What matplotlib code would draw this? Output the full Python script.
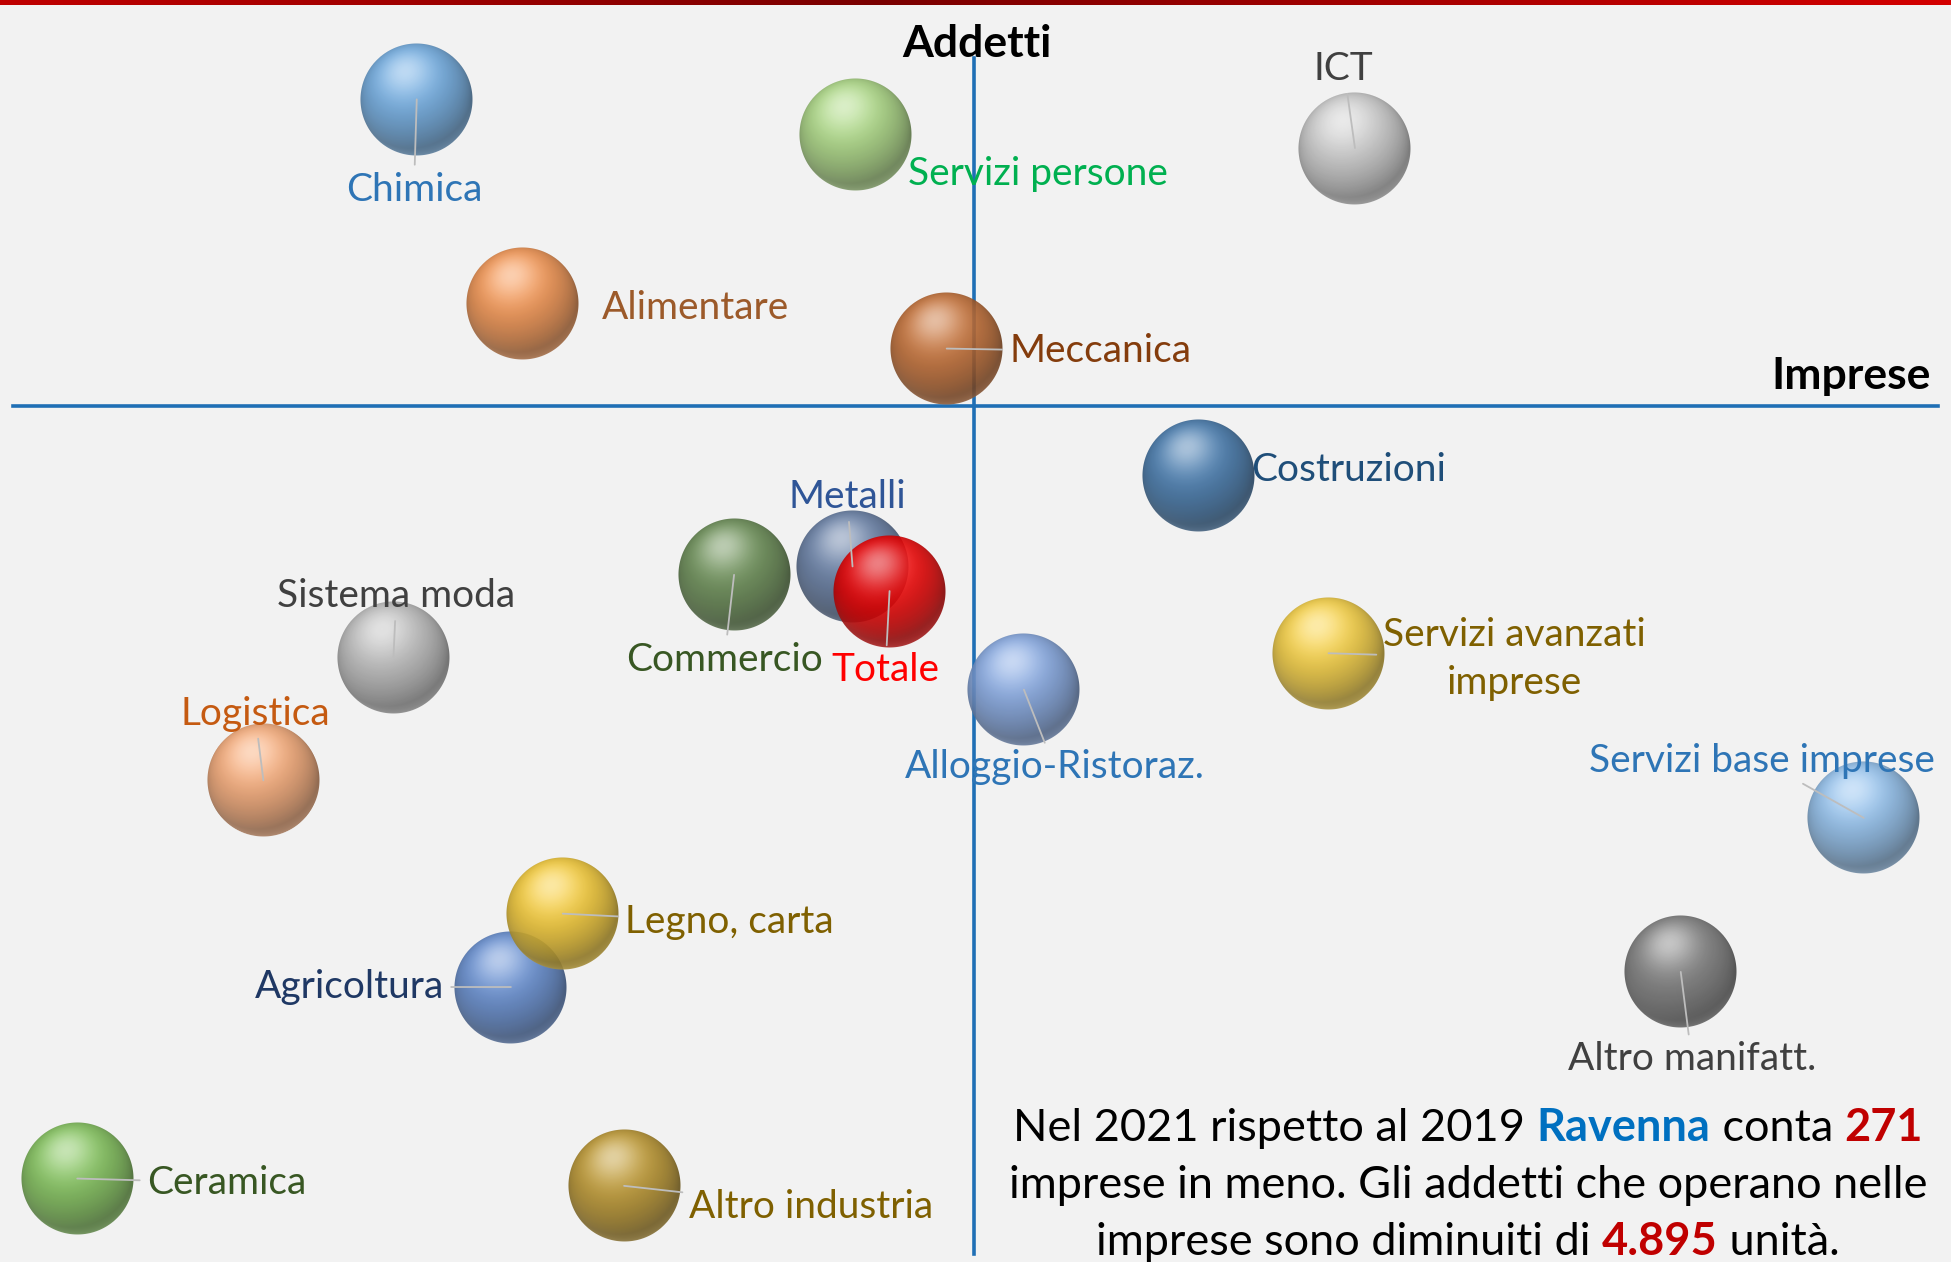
import matplotlib
matplotlib.use('Agg')
import matplotlib.pyplot as plt
import numpy as np
from matplotlib.colors import to_rgb
from matplotlib.offsetbox import OffsetImage, AnnotationBbox, TextArea, HPacker, VPacker

# variazione % 2021 vs 2019 (stimata dal grafico)
settori = ['Chimica', 'Servizi persone', 'ICT', 'Alimentare', 'Meccanica', 'Costruzioni',
           'Commercio', 'Sistema moda', 'Servizi avanzati\nimprese', 'Alloggio-Ristoraz.',
           'Logistica', 'Servizi base imprese', 'Agricoltura', 'Legno, carta',
           'Altro manifatt.', 'Ceramica', 'Altro industria', 'Metalli', 'Totale']
var_imprese = [-5.27, -1.12, 3.60, -4.27, -0.26, 2.12, -2.27, -5.49, 3.35, 0.47,
               -6.72, 8.41, -4.38, -3.89, 6.68, -8.48, -3.31, -1.15, -0.80]
var_addetti = [5.47, 4.84, 4.60, 1.82, 1.02, -1.24, -3.02, -4.49, -4.42, -5.07,
               -6.69, -7.36, -10.38, -9.07, -10.11, -13.80, -13.93, -2.87, -3.31]

col_sfera = ['#6aa6dc', '#a6d37e', '#c8c8c8', '#ee8e4a', '#c06a30', '#3f74a8',
             '#64884f', '#b8b8b8', '#f2cb3c', '#7fa2dc', '#f2a572', '#8cbbe8',
             '#5f88cc', '#f0c530', '#7a7a7a', '#7cbd55', '#b8922a', '#60789f', '#f00000']
col_testo = ['#2e75b6', '#00b050', '#404040', '#9c5a2a', '#843c0c', '#1f4e79',
             '#385723', '#404040', '#7f6000', '#2e75b6', '#c55a11', '#2e75b6',
             '#1f3864', '#7f6000', '#404040', '#385723', '#7f6000', '#2f5597', '#ff0000']
# posizione etichette: offset in punti, allineamento, linea guida
etichette = [((-2, -65), 'center', True), ((38, -28), 'left', False), ((-8, 57), 'center', True),
             ((57, -3), 'left', False), ((45, -2), 'left', True), ((38, 4), 'left', False),
             ((-7, -61), 'center', True), ((2, 44), 'center', True), ((134, -4), 'center', True),
             ((22, -56), 'center', True), ((-6, 48), 'center', True), ((-73, 41), 'center', True),
             ((-48, 0), 'right', True), ((45, -6), 'left', True), ((8, -63), 'center', True),
             ((50, -3), 'left', True), ((47, -15), 'left', True), ((-4, 50), 'center', True),
             ((-3, -57), 'center', True)]

bg = '#f2f2f2'
font = ['Lato', 'DejaVu Sans']


def sfera(colore, n=226, alpha=0.9):
    c = np.array(to_rgb(colore))
    t = np.linspace(-1, 1, n)
    u, v = np.meshgrid(t, -t)
    r = np.sqrt(u**2 + v**2)
    nz = np.sqrt(np.clip(1 - r**2, 0, 1))
    L = np.array([-0.2, 0.5, 0.84])
    L = L / np.linalg.norm(L)
    diff = np.clip(u * L[0] + v * L[1] + nz * L[2], 0, 1)
    spec = 0.5 * diff**10
    rim = 0.18 * np.clip(-v, 0, 1) * (1 - nz)**1.5
    shade = 0.55 + 0.5 * diff
    rgb = c * shade[..., None] + (1 - c * shade[..., None]) * spec[..., None] + rim[..., None]
    rgb = np.clip(rgb, 0, 1)
    a = np.clip((1 - r) * n / 2, 0, 1) * alpha
    return np.dstack([rgb, a])


fig = plt.figure(figsize=(19.51, 12.62), dpi=100, facecolor=bg)
ax = fig.add_axes([0, 0, 1, 1])
ax.set_facecolor(bg)
ax.set_xlim(-9.21, 9.235)
ax.set_ylim(-15.29, 7.244)
ax.axis('off')

# assi del quadrante
ax.plot([-9.09, 9.11], [0, 0], color='#1f6fb5', lw=2.6, zorder=1)
ax.plot([0, 0], [6.2, -15.15], color='#1f6fb5', lw=2.6, zorder=1)

for i, nome in enumerate(settori):
    ab = AnnotationBbox(OffsetImage(sfera(col_sfera[i]), zoom=0.5, dpi_cor=False),
                        (var_imprese[i], var_addetti[i]), frameon=False, pad=0, zorder=3 + i * 0.01)
    ax.add_artist(ab)

for i, nome in enumerate(settori):
    (dx, dy), ha, guida = etichette[i]
    arrow = dict(arrowstyle='-', color='#bdbdbd', lw=1.3, shrinkA=3, shrinkB=0) if guida else None
    ax.annotate(nome, xy=(var_imprese[i], var_addetti[i]), xytext=(dx, dy),
                textcoords='offset points', ha=ha, va='center', multialignment='center',
                fontsize=28, color=col_testo[i], family=font, arrowprops=arrow, zorder=5,
                linespacing=1.42)

fig.text(977 / 1951, 1 - 44 / 1262, 'Addetti', ha='center', va='center', fontsize=32,
         fontweight='bold', family=font, color='black')
fig.text(1931 / 1951, 1 - 376 / 1262, 'Imprese', ha='right', va='center', fontsize=32,
         fontweight='bold', family=font, color='black')

# testo di commento con parti colorate
fs = 32.5
def pezzo(s, col='black', w='normal'):
    return TextArea(s, textprops=dict(fontsize=fs, color=col, fontweight=w, family=font))

righe = [
    HPacker(children=[pezzo('Nel 2021 rispetto al 2019 '), pezzo('Ravenna', '#0070c0', 'bold'),
                      pezzo(' conta '), pezzo('271', '#c00000', 'bold')], sep=0, pad=0, align='baseline'),
    HPacker(children=[pezzo('imprese in meno. Gli addetti che operano nelle')], sep=0, pad=0),
    HPacker(children=[pezzo('imprese sono diminuiti di '), pezzo('4.895', '#c00000', 'bold'),
                      pezzo(' unità.')], sep=0, pad=0, align='baseline'),
]
box = VPacker(children=righe, sep=11, pad=0, align='center')
ab = AnnotationBbox(box, (1468 / 1951, 1 - 1185 / 1262), xycoords='figure fraction',
                    frameon=False, pad=0, box_alignment=(0.5, 0.5), zorder=6)
ax.add_artist(ab)

# banda rossa in alto
bax = fig.add_axes([0, 1 - 5 / 1262, 1, 5 / 1262])
grad = np.linspace(0, 1, 400)
rosso = np.array([to_rgb('#c00000'), to_rgb('#7a0000'), to_rgb('#d40000')])
xs = np.array([0, 0.45, 1])
strip = np.stack([np.interp(grad, xs, rosso[:, k]) for k in range(3)], axis=-1)[None, :, :]
bax.imshow(strip, aspect='auto')
bax.axis('off')

fig.savefig('out.png', dpi=100, facecolor=bg)
